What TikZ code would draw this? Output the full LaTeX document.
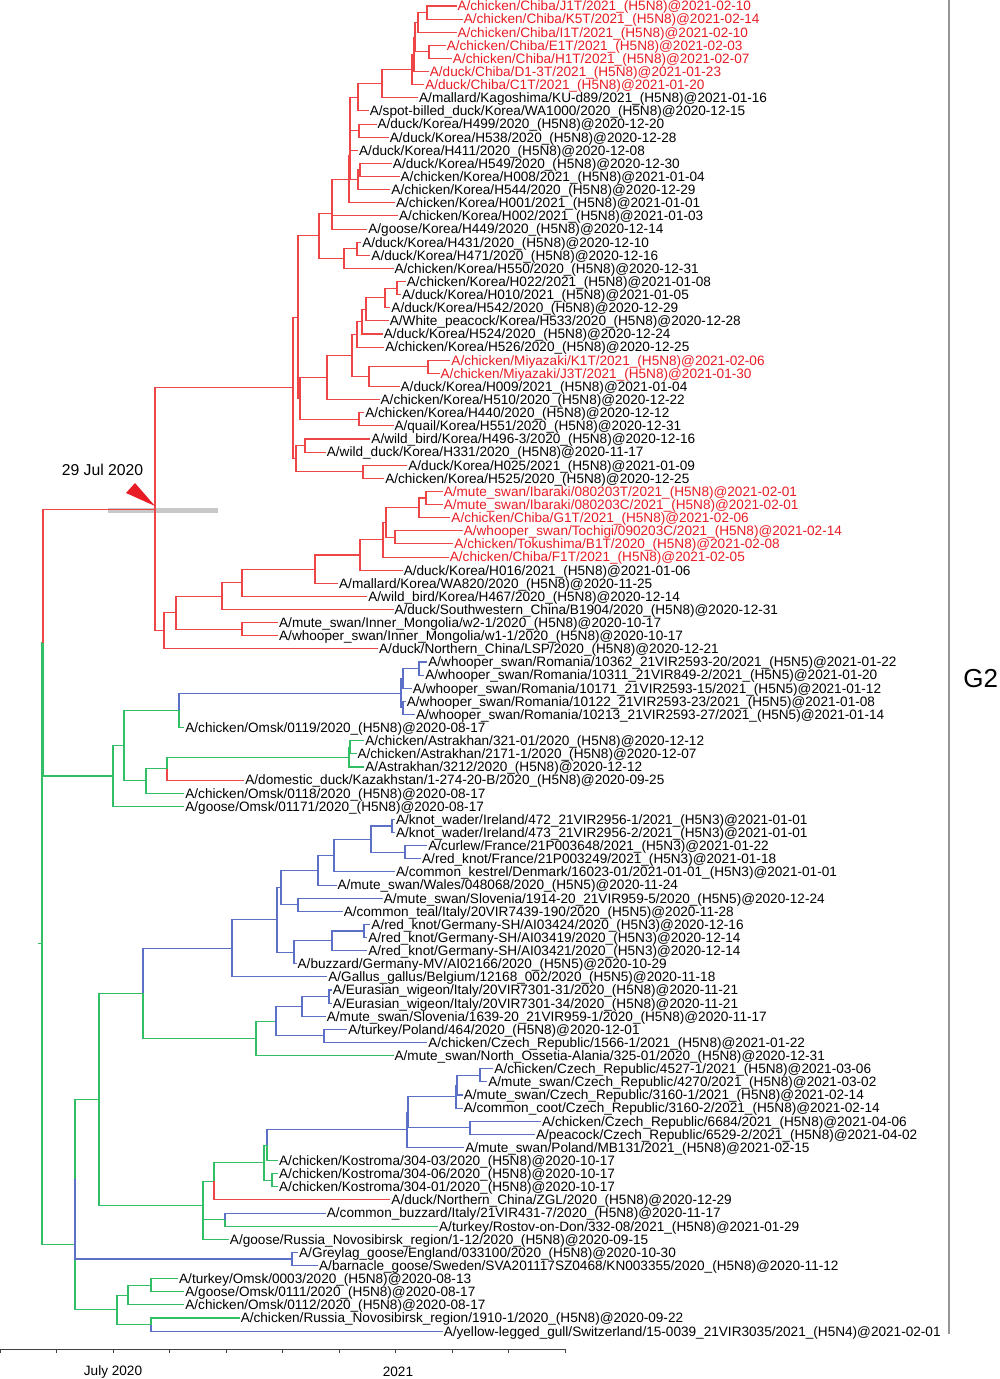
\documentclass[tikz,border=0pt]{standalone}
\usepackage{fontspec}
\setmainfont{Liberation Sans}
\definecolor{redbr}{RGB}{238,70,70}
\definecolor{bluebr}{RGB}{92,112,200}
\definecolor{greenbr}{RGB}{50,190,100}
\definecolor{redtxt}{RGB}{232,28,36}
\definecolor{hpd}{RGB}{200,200,200}
\definecolor{rline}{RGB}{150,150,150}
\newcommand\TreeNd[3]{\coordinate (#1) at (#2,{(#3)*13.12-7.12});}
\newcommand\TreeLf[5][]{\node[leaf,#1] (#2) at (#3,{(#4)*13.12-7.12}) {#5};}
\begin{document}
\begin{tikzpicture}[x=0.75pt,y=-0.75pt,
  br/.style={line width=0.8pt},
  rb/.style={br,draw=redbr},
  bb/.style={br,draw=bluebr},
  gb/.style={br,draw=greenbr},
  leaf/.style={anchor=west,inner xsep=0.6pt,inner ysep=0pt,text height=7.3pt,text depth=0pt,font=\fontsize{10.2}{12}\selectfont},
  rt/.style={text=redtxt},
  axlab/.style={font=\fontsize{10.2}{12}\selectfont,inner sep=0pt}]
\useasboundingbox (0,0) rectangle (1000,1379);
% HPD bar
\fill[hpd] (108,507.5) rectangle (218,513);
% ---------- leaves ----------
\TreeLf[rt]{l1}{456.5}{1}{A/chicken/Chiba/J1T/2021\_(H5N8)@2021-02-10}
\TreeLf[rt]{l2}{462.7}{2}{A/chicken/Chiba/K5T/2021\_(H5N8)@2021-02-14}
\TreeLf[rt]{l3}{456.5}{3}{A/chicken/Chiba/I1T/2021\_(H5N8)@2021-02-10}
\TreeLf[rt]{l4}{445.7}{4}{A/chicken/Chiba/E1T/2021\_(H5N8)@2021-02-03}
\TreeLf[rt]{l5}{451.9}{5}{A/chicken/Chiba/H1T/2021\_(H5N8)@2021-02-07}
\TreeLf[rt]{l6}{428.8}{6}{A/duck/Chiba/D1-3T/2021\_(H5N8)@2021-01-23}
\TreeLf[rt]{l7}{424.2}{7}{A/duck/Chiba/C1T/2021\_(H5N8)@2021-01-20}
\TreeLf{l8}{418.1}{8}{A/mallard/Kagoshima/KU-d89/2021\_(H5N8)@2021-01-16}
\TreeLf{l9}{368.8}{9}{A/spot-billed\_duck/Korea/WA1000/2020\_(H5N8)@2020-12-15}
\TreeLf{l10}{376.5}{10}{A/duck/Korea/H499/2020\_(H5N8)@2020-12-20}
\TreeLf{l11}{388.8}{11}{A/duck/Korea/H538/2020\_(H5N8)@2020-12-28}
\TreeLf{l12}{358.1}{12}{A/duck/Korea/H411/2020\_(H5N8)@2020-12-08}
\TreeLf{l13}{391.9}{13}{A/duck/Korea/H549/2020\_(H5N8)@2020-12-30}
\TreeLf{l14}{399.6}{14}{A/chicken/Korea/H008/2021\_(H5N8)@2021-01-04}
\TreeLf{l15}{390.4}{15}{A/chicken/Korea/H544/2020\_(H5N8)@2020-12-29}
\TreeLf{l16}{395.0}{16}{A/chicken/Korea/H001/2021\_(H5N8)@2021-01-01}
\TreeLf{l17}{398.1}{17}{A/chicken/Korea/H002/2021\_(H5N8)@2021-01-03}
\TreeLf{l18}{367.3}{18}{A/goose/Korea/H449/2020\_(H5N8)@2020-12-14}
\TreeLf{l19}{361.2}{19}{A/duck/Korea/H431/2020\_(H5N8)@2020-12-10}
\TreeLf{l20}{370.4}{20}{A/duck/Korea/H471/2020\_(H5N8)@2020-12-16}
\TreeLf{l21}{393.5}{21}{A/chicken/Korea/H550/2020\_(H5N8)@2020-12-31}
\TreeLf{l22}{405.8}{22}{A/chicken/Korea/H022/2021\_(H5N8)@2021-01-08}
\TreeLf{l23}{401.1}{23}{A/duck/Korea/H010/2021\_(H5N8)@2021-01-05}
\TreeLf{l24}{390.4}{24}{A/duck/Korea/H542/2020\_(H5N8)@2020-12-29}
\TreeLf{l25}{388.8}{25}{A/White\_peacock/Korea/H533/2020\_(H5N8)@2020-12-28}
\TreeLf{l26}{382.7}{26}{A/duck/Korea/H524/2020\_(H5N8)@2020-12-24}
\TreeLf{l27}{384.2}{27}{A/chicken/Korea/H526/2020\_(H5N8)@2020-12-25}
\TreeLf[rt]{l28}{450.4}{28}{A/chicken/Miyazaki/K1T/2021\_(H5N8)@2021-02-06}
\TreeLf[rt]{l29}{439.6}{29}{A/chicken/Miyazaki/J3T/2021\_(H5N8)@2021-01-30}
\TreeLf{l30}{399.6}{30}{A/duck/Korea/H009/2021\_(H5N8)@2021-01-04}
\TreeLf{l31}{379.6}{31}{A/chicken/Korea/H510/2020\_(H5N8)@2020-12-22}
\TreeLf{l32}{364.2}{32}{A/chicken/Korea/H440/2020\_(H5N8)@2020-12-12}
\TreeLf{l33}{393.5}{33}{A/quail/Korea/H551/2020\_(H5N8)@2020-12-31}
\TreeLf{l34}{370.4}{34}{A/wild\_bird/Korea/H496-3/2020\_(H5N8)@2020-12-16}
\TreeLf{l35}{325.8}{35}{A/wild\_duck/Korea/H331/2020\_(H5N8)@2020-11-17}
\TreeLf{l36}{407.3}{36}{A/duck/Korea/H025/2021\_(H5N8)@2021-01-09}
\TreeLf{l37}{384.2}{37}{A/chicken/Korea/H525/2020\_(H5N8)@2020-12-25}
\TreeLf[rt]{l38}{442.7}{38}{A/mute\_swan/Ibaraki/080203T/2021\_(H5N8)@2021-02-01}
\TreeLf[rt]{l39}{442.7}{39}{A/mute\_swan/Ibaraki/080203C/2021\_(H5N8)@2021-02-01}
\TreeLf[rt]{l40}{450.4}{40}{A/chicken/Chiba/G1T/2021\_(H5N8)@2021-02-06}
\TreeLf[rt]{l41}{462.7}{41}{A/whooper\_swan/Tochigi/090203C/2021\_(H5N8)@2021-02-14}
\TreeLf[rt]{l42}{453.4}{42}{A/chicken/Tokushima/B1T/2020\_(H5N8)@2021-02-08}
\TreeLf[rt]{l43}{448.8}{43}{A/chicken/Chiba/F1T/2021\_(H5N8)@2021-02-05}
\TreeLf{l44}{402.7}{44}{A/duck/Korea/H016/2021\_(H5N8)@2021-01-06}
\TreeLf{l45}{338.1}{45}{A/mallard/Korea/WA820/2020\_(H5N8)@2020-11-25}
\TreeLf{l46}{367.3}{46}{A/wild\_bird/Korea/H467/2020\_(H5N8)@2020-12-14}
\TreeLf{l47}{393.5}{47}{A/duck/Southwestern\_China/B1904/2020\_(H5N8)@2020-12-31}
\TreeLf{l48}{278.1}{48}{A/mute\_swan/Inner\_Mongolia/w2-1/2020\_(H5N8)@2020-10-17}
\TreeLf{l49}{278.1}{49}{A/whooper\_swan/Inner\_Mongolia/w1-1/2020\_(H5N8)@2020-10-17}
\TreeLf{l50}{378.1}{50}{A/duck/Northern\_China/LSP/2020\_(H5N8)@2020-12-21}
\TreeLf{l51}{427.3}{51}{A/whooper\_swan/Romania/10362\_21VIR2593-20/2021\_(H5N5)@2021-01-22}
\TreeLf{l52}{424.2}{52}{A/whooper\_swan/Romania/10311\_21VIR849-2/2021\_(H5N5)@2021-01-20}
\TreeLf{l53}{411.9}{53}{A/whooper\_swan/Romania/10171\_21VIR2593-15/2021\_(H5N5)@2021-01-12}
\TreeLf{l54}{405.8}{54}{A/whooper\_swan/Romania/10122\_21VIR2593-23/2021\_(H5N5)@2021-01-08}
\TreeLf{l55}{415.0}{55}{A/whooper\_swan/Romania/10213\_21VIR2593-27/2021\_(H5N5)@2021-01-14}
\TreeLf{l56}{184.3}{56}{A/chicken/Omsk/0119/2020\_(H5N8)@2020-08-17}
\TreeLf{l57}{364.2}{57}{A/chicken/Astrakhan/321-01/2020\_(H5N8)@2020-12-12}
\TreeLf{l58}{356.5}{58}{A/chicken/Astrakhan/2171-1/2020\_(H5N8)@2020-12-07}
\TreeLf{l59}{364.2}{59}{A/Astrakhan/3212/2020\_(H5N8)@2020-12-12}
\TreeLf{l60}{244.3}{60}{A/domestic\_duck/Kazakhstan/1-274-20-B/2020\_(H5N8)@2020-09-25}
\TreeLf{l61}{184.3}{61}{A/chicken/Omsk/0118/2020\_(H5N8)@2020-08-17}
\TreeLf{l62}{184.3}{62}{A/goose/Omsk/01171/2020\_(H5N8)@2020-08-17}
\TreeLf{l63}{395.0}{63}{A/knot\_wader/Ireland/472\_21VIR2956-1/2021\_(H5N3)@2021-01-01}
\TreeLf{l64}{395.0}{64}{A/knot\_wader/Ireland/473\_21VIR2956-2/2021\_(H5N3)@2021-01-01}
\TreeLf{l65}{427.3}{65}{A/curlew/France/21P003648/2021\_(H5N3)@2021-01-22}
\TreeLf{l66}{421.1}{66}{A/red\_knot/France/21P003249/2021\_(H5N3)@2021-01-18}
\TreeLf{l67}{395.0}{67}{A/common\_kestrel/Denmark/16023-01/2021-01-01\_(H5N3)@2021-01-01}
\TreeLf{l68}{336.5}{68}{A/mute\_swan/Wales/048068/2020\_(H5N5)@2020-11-24}
\TreeLf{l69}{382.7}{69}{A/mute\_swan/Slovenia/1914-20\_21VIR959-5/2020\_(H5N5)@2020-12-24}
\TreeLf{l70}{342.7}{70}{A/common\_teal/Italy/20VIR7439-190/2020\_(H5N5)@2020-11-28}
\TreeLf{l71}{370.4}{71}{A/red\_knot/Germany-SH/AI03424/2020\_(H5N3)@2020-12-16}
\TreeLf{l72}{367.3}{72}{A/red\_knot/Germany-SH/AI03419/2020\_(H5N3)@2020-12-14}
\TreeLf{l73}{367.3}{73}{A/red\_knot/Germany-SH/AI03421/2020\_(H5N3)@2020-12-14}
\TreeLf{l74}{296.6}{74}{A/buzzard/Germany-MV/AI02166/2020\_(H5N5)@2020-10-29}
\TreeLf{l75}{327.3}{75}{A/Gallus\_gallus/Belgium/12168\_002/2020\_(H5N5)@2020-11-18}
\TreeLf{l76}{331.9}{76}{A/Eurasian\_wigeon/Italy/20VIR7301-31/2020\_(H5N8)@2020-11-21}
\TreeLf{l77}{331.9}{77}{A/Eurasian\_wigeon/Italy/20VIR7301-34/2020\_(H5N8)@2020-11-21}
\TreeLf{l78}{325.8}{78}{A/mute\_swan/Slovenia/1639-20\_21VIR959-1/2020\_(H5N8)@2020-11-17}
\TreeLf{l79}{347.3}{79}{A/turkey/Poland/464/2020\_(H5N8)@2020-12-01}
\TreeLf{l80}{427.3}{80}{A/chicken/Czech\_Republic/1566-1/2021\_(H5N8)@2021-01-22}
\TreeLf{l81}{393.5}{81}{A/mute\_swan/North\_Ossetia-Alania/325-01/2020\_(H5N8)@2020-12-31}
\TreeLf{l82}{493.4}{82}{A/chicken/Czech\_Republic/4527-1/2021\_(H5N8)@2021-03-06}
\TreeLf{l83}{487.3}{83}{A/mute\_swan/Czech\_Republic/4270/2021\_(H5N8)@2021-03-02}
\TreeLf{l84}{462.7}{84}{A/mute\_swan/Czech\_Republic/3160-1/2021\_(H5N8)@2021-02-14}
\TreeLf{l85}{462.7}{85}{A/common\_coot/Czech\_Republic/3160-2/2021\_(H5N8)@2021-02-14}
\TreeLf{l86}{541.1}{86}{A/chicken/Czech\_Republic/6684/2021\_(H5N8)@2021-04-06}
\TreeLf{l87}{535.0}{87}{A/peacock/Czech\_Republic/6529-2/2021\_(H5N8)@2021-04-02}
\TreeLf{l88}{464.2}{88}{A/mute\_swan/Poland/MB131/2021\_(H5N8)@2021-02-15}
\TreeLf{l89}{278.1}{89}{A/chicken/Kostroma/304-03/2020\_(H5N8)@2020-10-17}
\TreeLf{l90}{278.1}{90}{A/chicken/Kostroma/304-06/2020\_(H5N8)@2020-10-17}
\TreeLf{l91}{278.1}{91}{A/chicken/Kostroma/304-01/2020\_(H5N8)@2020-10-17}
\TreeLf{l92}{390.4}{92}{A/duck/Northern\_China/ZGL/2020\_(H5N8)@2020-12-29}
\TreeLf{l93}{325.8}{93}{A/common\_buzzard/Italy/21VIR431-7/2020\_(H5N8)@2020-11-17}
\TreeLf{l94}{438.1}{94}{A/turkey/Rostov-on-Don/332-08/2021\_(H5N8)@2021-01-29}
\TreeLf{l95}{228.9}{95}{A/goose/Russia\_Novosibirsk\_region/1-12/2020\_(H5N8)@2020-09-15}
\TreeLf{l96}{298.1}{96}{A/Greylag\_goose/England/033100/2020\_(H5N8)@2020-10-30}
\TreeLf{l97}{318.1}{97}{A/barnacle\_goose/Sweden/SVA201117SZ0468/KN003355/2020\_(H5N8)@2020-11-12}
\TreeLf{l98}{178.1}{98}{A/turkey/Omsk/0003/2020\_(H5N8)@2020-08-13}
\TreeLf{l99}{184.3}{99}{A/goose/Omsk/0111/2020\_(H5N8)@2020-08-17}
\TreeLf{l100}{184.3}{100}{A/chicken/Omsk/0112/2020\_(H5N8)@2020-08-17}
\TreeLf{l101}{239.7}{101}{A/chicken/Russia\_Novosibirsk\_region/1910-1/2020\_(H5N8)@2020-09-22}
\TreeLf{l102}{442.7}{102}{A/yellow-legged\_gull/Switzerland/15-0039\_21VIR3035/2021\_(H5N4)@2021-02-01}
% ---------- internal nodes ----------
\TreeNd{A}{427}{1.5}
\TreeNd{B}{418}{2.25}
\TreeNd{C}{429}{4.5}
\TreeNd{E1}{415}{3.375}
\TreeNd{E}{414}{4.6875}
\TreeNd{F}{412}{5.84375}
\TreeNd{G}{382}{6.921875}
\TreeNd{H}{358}{7.9609}
\TreeNd{J}{359}{10.5}
\TreeNd{Mc}{350}{9.2305}
\TreeNd{Mb}{350}{10.6152}
\TreeNd{L}{360}{13.5}
\TreeNd{K}{358}{14.25}
\TreeNd{Ma}{350}{12.4326}
\TreeNd{M}{349}{14.2163}
\TreeNd{N1}{332}{15.6082}
\TreeNd{N}{332}{16.8041}
\TreeNd{Q}{357}{19.5}
\TreeNd{P}{344}{20.25}
\TreeNd{O}{319}{18.527}
\TreeNd{X1}{397}{22.5}
\TreeNd{X2}{385}{23.25}
\TreeNd{X3}{366}{24.125}
\TreeNd{X4}{362}{25.0625}
\TreeNd{X5}{357}{26.03125}
\TreeNd{Y1}{428}{28.5}
\TreeNd{Y2}{369}{29.25}
\TreeNd{X6}{352}{27.6406}
\TreeNd{V}{327}{29.3203}
\TreeNd{S}{359}{32.5}
\TreeNd{Z1}{300}{30.910}
\TreeNd{Z2}{298}{24.7185}
\TreeNd{U}{305}{34.5}
\TreeNd{R}{363}{36.5}
\TreeNd{Z5}{296}{35.5}
\TreeNd{UR}{293}{30.109}
\TreeNd{a1}{426}{38.5}
\TreeNd{a2}{419}{39.25}
\TreeNd{a3}{395}{41.5}
\TreeNd{a4}{386}{40.375}
\TreeNd{a5}{383}{41.6875}
\TreeNd{a6}{360}{42.84375}
\TreeNd{a7}{315}{43.9219}
\TreeNd{a8}{242}{44.961}
\TreeNd{a9}{222}{45.98}
\TreeNd{b1}{242}{48.5}
\TreeNd{a10}{176}{47.24}
\TreeNd{a11}{164}{48.62}
\TreeNd{RR}{155}{39.365}
\TreeNd{r1}{419}{51.5}
\TreeNd{r2}{403}{52.25}
\TreeNd{r5}{403}{54.5}
\TreeNd{r4}{401}{53.375}
\TreeNd{g2}{179}{54.6875}
\TreeNd{s1a}{350}{57.5}
\TreeNd{s1}{349}{58.25}
\TreeNd{g4}{167}{59.125}
\TreeNd{g3}{146}{60.0625}
\TreeNd{g1}{124}{57.375}
\TreeNd{g}{113}{59.6875}
\TreeNd{N42}{43}{49.526}
\TreeNd{i1}{392}{63.5}
\TreeNd{f1}{405}{65.5}
\TreeNd{f2}{371}{64.5}
\TreeNd{f3}{334}{65.75}
\TreeNd{f4}{318}{66.875}
\TreeNd{f5}{298}{69.5}
\TreeNd{f6}{281}{68.1875}
\TreeNd{gs1}{364}{71.5}
\TreeNd{gs2}{332}{72.25}
\TreeNd{gs3}{294}{73.125}
\TreeNd{f7}{277}{70.656}
\TreeNd{f8}{232}{72.828}
\TreeNd{w1}{329}{76.5}
\TreeNd{w2}{302}{77.25}
\TreeNd{w4}{324}{79.5}
\TreeNd{w3}{276}{78.375}
\TreeNd{w5}{256}{79.6875}
\TreeNd{LB}{143}{76.258}
\TreeNd{c1}{480}{82.5}
\TreeNd{c2}{457}{83.25}
\TreeNd{c3}{456}{84.125}
\TreeNd{c4}{470}{86.5}
\TreeNd{c5}{408}{85.3125}
\TreeNd{c6}{407}{86.656}
\TreeNd{c7}{267}{87.828}
\TreeNd{k1}{272}{90.5}
\TreeNd{c8}{264}{89.164}
\TreeNd{c9}{214}{90.582}
\TreeNd{c10}{225}{93.5}
\TreeNd{LE2}{203}{94.25}
\TreeNd{LE}{203}{92.416}
\TreeNd{LA}{99}{84.337}
\TreeNd{GB}{292}{96.5}
\TreeNd{LOW1}{75}{90.42}
\TreeNd{o1}{151}{98.5}
\TreeNd{o2}{128}{99.25}
\TreeNd{o3}{151}{101.5}
\TreeNd{LC}{117}{100.375}
\TreeNd{LOW}{75}{95.40}
\TreeNd{R0}{42}{72.46}
\TreeNd{stub}{38}{72.46}
% ---------- green branches ----------
\draw[gb] (stub) -- (R0)
 (R0) |- (N42) (R0) |- (LOW)
 (N42) |- (g)
 (g) |- (g1) (g) |- (l62)
 (g1) |- (g2) (g1) |- (g3)
 (g2) |- (l56)
 (g3) |- (g4) (g3) |- (l61)
 (g4) |- (s1)
 (s1) |- (s1a) (s1) |- (l59)
 (s1a) |- (l57) (s1a) |- (l58)
 (LOW) |- (LOW1) (LOW) |- (LC)
 (LOW1) |- (LA)
 (LA) |- (LB) (LA) |- (LE)
 (LB) |- (w5)
 (w5) |- (w3) (w5) |- (l81)
 (LE) |- (c9) (LE) |- (LE2)
 (c9) |- (c8)
 (c8) |- (c7) (c8) |- (k1)
 (c7) |- (l89)
 (k1) |- (l90) (k1) |- (l91)
 (LE2) |- (c10) (LE2) |- (l95)
 (c10) |- (l94)
 (LC) |- (o2) (LC) |- (o3)
 (o2) |- (o1) (o2) |- (l100)
 (o1) |- (l98) (o1) |- (l99)
 (o3) |- (l101);
% ---------- blue branches ----------
\draw[bb] (g2) |- (r4)
 (r4) |- (r2) (r4) |- (r5)
 (r2) |- (r1) (r2) |- (l53)
 (r1) |- (l51) (r1) |- (l52)
 (r5) |- (l54) (r5) |- (l55)
 (LB) |- (f8)
 (f8) |- (f7) (f8) |- (l75)
 (f7) |- (f6) (f7) |- (gs3)
 (f6) |- (f4) (f6) |- (f5)
 (f4) |- (f3) (f4) |- (l68)
 (f3) |- (f2) (f3) |- (l67)
 (f2) |- (i1) (f2) |- (f1)
 (i1) |- (l63) (i1) |- (l64)
 (f1) |- (l65) (f1) |- (l66)
 (f5) |- (l69) (f5) |- (l70)
 (gs3) |- (gs2) (gs3) |- (l74)
 (gs2) |- (gs1) (gs2) |- (l73)
 (gs1) |- (l71) (gs1) |- (l72)
 (w3) |- (w2) (w3) |- (w4)
 (w2) |- (w1) (w2) |- (l78)
 (w1) |- (l76) (w1) |- (l77)
 (w4) |- (l79) (w4) |- (l80)
 (c7) |- (c6)
 (c6) |- (c5) (c6) |- (l88)
 (c5) |- (c3) (c5) |- (c4)
 (c3) |- (c2) (c3) |- (l85)
 (c2) |- (c1) (c2) |- (l84)
 (c1) |- (l82) (c1) |- (l83)
 (c4) |- (l86) (c4) |- (l87)
 (c10) |- (l93)
 (LOW1) |- (GB)
 (GB) |- (l96) (GB) |- (l97)
 (o3) |- (l102);
% ---------- red branches ----------
\draw[rb] (N42) |- (RR)
 (RR) |- (UR) (RR) |- (a11)
 (UR) |- (Z2) (UR) |- (Z5)
 (Z2) |- (O) (Z2) |- (Z1)
 (O) |- (N) (O) |- (P)
 (N) |- (N1) (N) |- (l18)
 (N1) |- (M) (N1) |- (l17)
 (M) |- (Ma) (M) |- (l16)
 (Ma) |- (Mb) (Ma) |- (K)
 (Mb) |- (Mc) (Mb) |- (l12)
 (Mc) |- (H) (Mc) |- (J)
 (H) |- (G) (H) |- (l9)
 (G) |- (F) (G) |- (l8)
 (F) |- (E) (F) |- (l7)
 (E) |- (E1) (E) |- (l6)
 (E1) |- (B) (E1) |- (C)
 (B) |- (A) (B) |- (l3)
 (A) |- (l1) (A) |- (l2)
 (C) |- (l4) (C) |- (l5)
 (J) |- (l10) (J) |- (l11)
 (K) |- (L) (K) |- (l15)
 (L) |- (l13) (L) |- (l14)
 (P) |- (Q) (P) |- (l21)
 (Q) |- (l19) (Q) |- (l20)
 (Z1) |- (V) (Z1) |- (S)
 (V) |- (X6) (V) |- (l31)
 (X6) |- (X5) (X6) |- (Y2)
 (X5) |- (X4) (X5) |- (l27)
 (X4) |- (X3) (X4) |- (l26)
 (X3) |- (X2) (X3) |- (l25)
 (X2) |- (X1) (X2) |- (l24)
 (X1) |- (l22) (X1) |- (l23)
 (Y2) |- (Y1) (Y2) |- (l30)
 (Y1) |- (l28) (Y1) |- (l29)
 (S) |- (l32) (S) |- (l33)
 (Z5) |- (U) (Z5) |- (R)
 (U) |- (l34) (U) |- (l35)
 (R) |- (l36) (R) |- (l37)
 (a11) |- (a10) (a11) |- (l50)
 (a10) |- (a9) (a10) |- (b1)
 (a9) |- (a8) (a9) |- (l47)
 (a8) |- (a7) (a8) |- (l46)
 (a7) |- (a6) (a7) |- (l45)
 (a6) |- (a5) (a6) |- (l44)
 (a5) |- (a4) (a5) |- (l43)
 (a4) |- (a2) (a4) |- (a3)
 (a2) |- (a1) (a2) |- (l40)
 (a1) |- (l38) (a1) |- (l39)
 (a3) |- (l41) (a3) |- (l42)
 (b1) |- (l48) (b1) |- (l49)
 (g4) |- (l60)
 (c9) |- (l92);
% ---------- annotations ----------
\node[font=\fontsize{11.8}{13}\selectfont,inner sep=0pt] (datelbl) at (102.5,470) {29 Jul 2020};
\fill[redtxt] (126,493) -- (135,483) -- (155,506) -- cycle;
\draw[rline,line width=1.1pt] (949,0) -- (949,1334);
\node[anchor=west,font=\fontsize{19.5}{21}\selectfont,inner sep=0pt] (clade) at (963,679) {G2};
% ---------- time axis ----------
\draw[black!75,line width=0.7pt] (0,1349) -- (565,1349);
\foreach \i in {0,...,10} {\draw[black!75,line width=0.7pt] ({\i*56.5},1349) -- ({\i*56.5},1353);}
\node[axlab] (tjul) at (113,1372) {July 2020};
\node[axlab] (t2021) at (398,1372) {2021};
\end{tikzpicture}
\end{document}
